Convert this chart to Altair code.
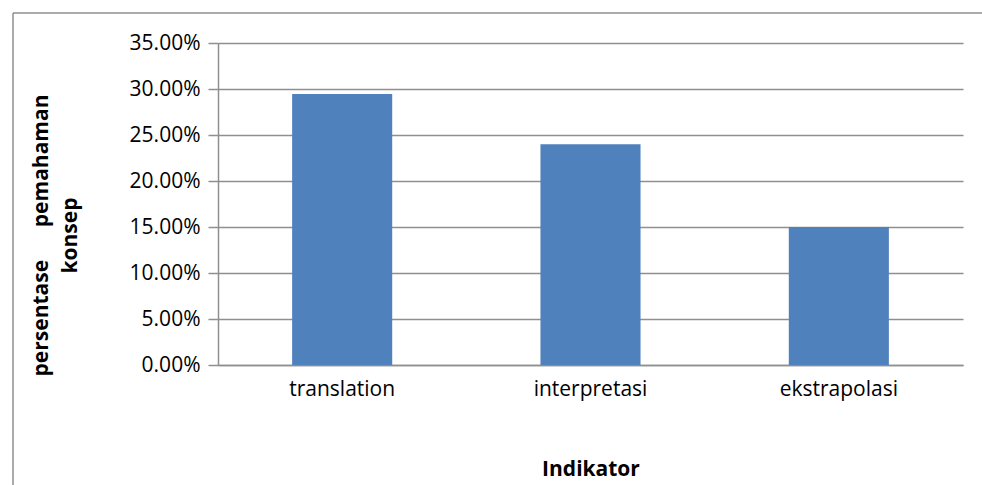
import altair as alt
import pandas as pd

categories = ["translation", "interpretasi", "ekstrapolasi"]
values = [0.2946, 0.2400, 0.1500]

df = pd.DataFrame({"Indikator": categories, "persen": values})

W, H = 745, 322
LEFT, TOP = 218, 43
FONT = "Open Sans"
GRID = "#8f8f8f"

frame_src = alt.Chart(pd.DataFrame({"a": [0]}))
frame_top = frame_src.mark_rule(color=GRID, strokeWidth=1.5).encode(
    x=alt.value(13 - LEFT), x2=alt.value(1000 - LEFT), y=alt.value(13 - TOP)
)
frame_left = frame_src.mark_rule(color=GRID, strokeWidth=1.5).encode(
    x=alt.value(13 - LEFT), y=alt.value(13 - TOP), y2=alt.value(485 - TOP)
)

bars = alt.Chart(df).mark_bar(color="#4F81BD").encode(
    x=alt.X("Indikator:N", sort=categories,
            scale=alt.Scale(paddingInner=0.597, paddingOuter=0.2985),
            axis=alt.Axis(title="Indikator", labelAngle=0, ticks=False,
                          labelFontSize=21, labelFont=FONT, labelColor="#000",
                          labelPadding=24, labelBaseline="middle",
                          domain=True, domainColor=GRID, domainWidth=1.5,
                          titleFont=FONT, titleFontSize=21, titleFontWeight="bold",
                          titleColor="#000", titleY=104, titleBaseline="middle")),
    y=alt.Y("persen:Q",
            scale=alt.Scale(domain=[0, 0.35], nice=False),
            axis=alt.Axis(title=["persentase\u00a0\u00a0\u00a0\u00a0\u00a0\u00a0pemahaman", "konsep"],
                          format=".2%", values=[0, 0.05, 0.10, 0.15, 0.20, 0.25, 0.30, 0.35],
                          labelFontSize=21, labelFont=FONT, labelColor="#000",
                          labelPadding=8, tickSize=10, tickColor=GRID, tickWidth=1.5,
                          domainColor=GRID, domainWidth=1.5,
                          grid=True, gridColor=GRID, gridWidth=1.5,
                          titleFont=FONT, titleFontSize=21, titleFontWeight="bold",
                          titleColor="#000", titleAngle=-90, titleBaseline="middle",
                          titleAlign="center", titleLineHeight=29,
                          titleX=-177, titleY=192)),
)

chart = alt.layer(frame_top, frame_left, bars).properties(
    width=W, height=H,
    autosize=alt.AutoSizeParams(type="none"),
    padding={"left": LEFT, "top": TOP, "right": 982 - LEFT - W, "bottom": 485 - TOP - H},
).configure_view(stroke=None)

chart.save("out.html", embed_options={"renderer": "svg", "actions": False})
